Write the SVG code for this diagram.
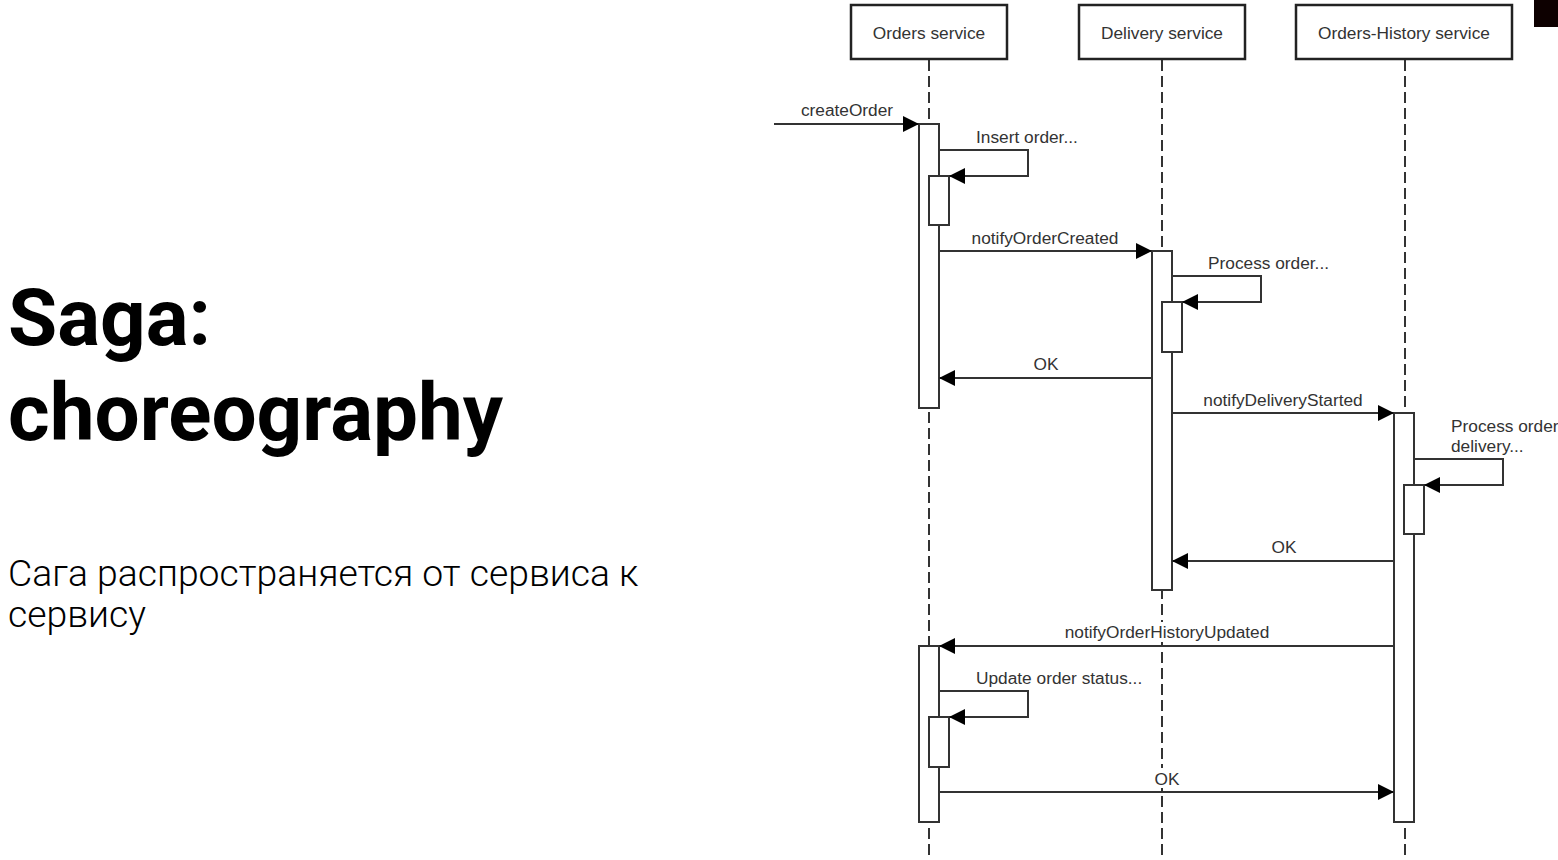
<svg xmlns="http://www.w3.org/2000/svg" width="1558" height="860" viewBox="0 0 1558 860">
<style>
.lbl{font-family:"Liberation Sans",Arial,sans-serif;font-size:17.3px;fill:#333}
.hdr{font-family:"Liberation Sans",Arial,sans-serif;font-size:17.3px;fill:#333;text-anchor:middle}
.box{fill:#fff;stroke:#222;stroke-width:2.5}
.life{stroke:#333;stroke-width:2;stroke-dasharray:11 5;fill:none}
.act{fill:#fff;stroke:#333;stroke-width:2}
.msg{stroke:#333;stroke-width:2;fill:none}
.bg{fill:#fff}
</style>
<defs>
<marker id="ahl" viewBox="0 0 16 16" refX="16" refY="8" markerWidth="16" markerHeight="16" markerUnits="userSpaceOnUse" orient="auto">
<path d="M0,0 L16,8 L0,16 Z" fill="#000"/>
</marker>
</defs>
<rect width="1558" height="860" fill="#fff"/>
<rect x="1534" y="0" width="24" height="27" fill="#0d0000"/>
<g id="title">
<text x="8" y="345" font-family="Roboto,sans-serif" font-weight="700" font-size="80" fill="#000">Saga:</text>
<text x="8" y="440" font-family="Roboto,sans-serif" font-weight="700" font-size="80" fill="#000">choreography</text>
</g>
<g id="subtitle">
<text x="8" y="586" font-family="Roboto,sans-serif" font-weight="300" font-size="37.3" fill="#000">Сага распространяется от сервиса к</text>
<text x="8" y="627" font-family="Roboto,sans-serif" font-weight="300" font-size="37.3" fill="#000">сервису</text>
</g>
<g id="lifelines">
<line class="life" x1="929" y1="60" x2="929" y2="860"/>
<line class="life" x1="1162" y1="60" x2="1162" y2="860"/>
<line class="life" x1="1405" y1="60" x2="1405" y2="860"/>
</g>
<g id="orders-service">
<rect class="box" x="851" y="5" width="156" height="54"/>
<text class="hdr" x="929" y="39">Orders service</text>
</g>
<g id="delivery-service">
<rect class="box" x="1079" y="5" width="166" height="54"/>
<text class="hdr" x="1162" y="39">Delivery service</text>
</g>
<g id="orders-history-service">
<rect class="box" x="1296" y="5" width="216" height="54"/>
<text class="hdr" x="1404" y="39">Orders-History service</text>
</g>
<g id="activations">
<rect class="act" x="919" y="124" width="20" height="284"/>
<rect class="act" x="929" y="176" width="20" height="49"/>
<rect class="act" x="1152" y="251" width="20" height="339"/>
<rect class="act" x="1162" y="302" width="20" height="50"/>
<rect class="act" x="1394" y="413" width="20" height="409"/>
<rect class="act" x="1404" y="485" width="20" height="49"/>
<rect class="act" x="919" y="646" width="20" height="176"/>
<rect class="act" x="929" y="717" width="20" height="50"/>
</g>
<g id="connectors">
<path class="msg" d="M774,124 H919" marker-end="url(#ahl)"/>
<path class="msg" d="M939,150 H1028 V176 H949" marker-end="url(#ahl)"/>
<path class="msg" d="M939,251 H1152" marker-end="url(#ahl)"/>
<path class="msg" d="M1172,276 H1261 V302 H1182" marker-end="url(#ahl)"/>
<path class="msg" d="M1152,378 H939" marker-end="url(#ahl)"/>
<path class="msg" d="M1172,413 H1394" marker-end="url(#ahl)"/>
<path class="msg" d="M1414,459 H1503 V485 H1424" marker-end="url(#ahl)"/>
<path class="msg" d="M1394,561 H1172" marker-end="url(#ahl)"/>
<path class="msg" d="M1394,646 H939" marker-end="url(#ahl)"/>
<path class="msg" d="M939,691 H1028 V717 H949" marker-end="url(#ahl)"/>
<path class="msg" d="M939,792 H1394" marker-end="url(#ahl)"/>
</g>
<g id="labels">
<text class="lbl" x="847" y="116" text-anchor="middle">createOrder</text>
<text class="lbl" x="976" y="143">Insert order...</text>
<text class="lbl" x="1045" y="244" text-anchor="middle">notifyOrderCreated</text>
<text class="lbl" x="1208" y="269">Process order...</text>
<text class="lbl" x="1046" y="370" text-anchor="middle">OK</text>
<text class="lbl" x="1283" y="406" text-anchor="middle">notifyDeliveryStarted</text>
<text class="lbl" x="1451" y="432">Process order</text>
<text class="lbl" x="1451" y="452">delivery...</text>
<text class="lbl" x="1284" y="553" text-anchor="middle">OK</text>
<rect class="bg" x="1064" y="622" width="206" height="20"/>
<text class="lbl" x="1167" y="638" text-anchor="middle">notifyOrderHistoryUpdated</text>
<text class="lbl" x="976" y="684">Update order status...</text>
<rect class="bg" x="1153" y="768" width="28" height="20"/>
<text class="lbl" x="1167" y="785" text-anchor="middle">OK</text>
</g>
</svg>
